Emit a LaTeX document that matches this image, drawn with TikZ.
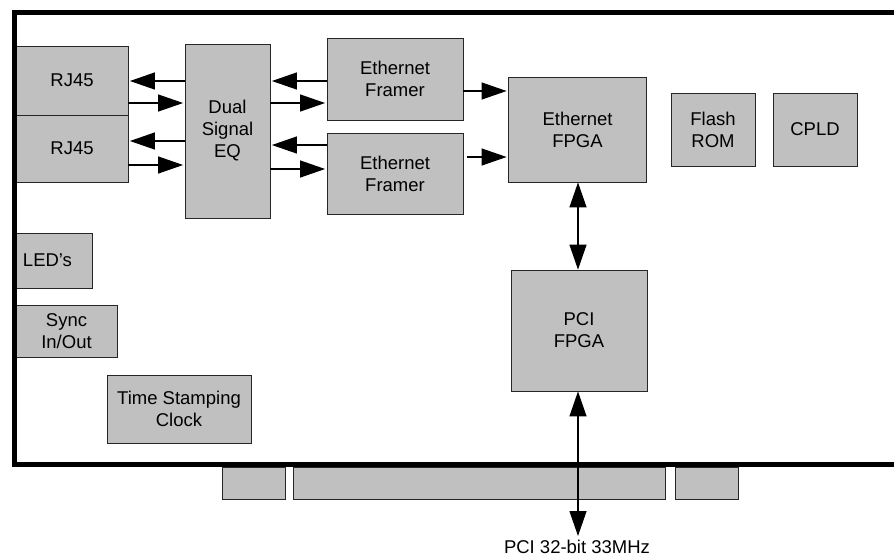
\documentclass[tikz,border=0pt]{standalone}
\usepackage{fontspec}
\setmainfont{Liberation Sans}
\usetikzlibrary{arrows.meta}
\definecolor{boxgray}{HTML}{C0C0C0}
\tikzset{
  txt/.style={font=\fontsize{18.5}{22}\selectfont},
  blk/.style={draw=black!85, line width=0.8pt, fill=boxgray, inner sep=0pt, align=center, txt},
  arr/.style={line width=1.2pt, shorten >=1.5pt, -{Triangle[length=25pt,width=17pt]}},
  darr/.style={line width=1.2pt, {Triangle[length=25pt,width=17pt]}-{Triangle[length=25pt,width=17pt]}},
  board/.style={line width=5pt, line cap=rect}
}
\begin{document}
\begin{tikzpicture}[x=1pt,y=-1pt]
\useasboundingbox (0,0) rectangle (894,558);
% boxes
\node[blk, minimum width=112pt, minimum height=69pt] (rj1) at (72,80.5) {RJ45};
\node[blk, minimum width=112pt, minimum height=67pt] (rj2) at (72,148.5) {RJ45};
\node[blk, minimum width=85pt, minimum height=174pt] (eq) at (227.5,131) {Dual\\Signal\\EQ};
\node[blk, minimum width=136pt, minimum height=82pt] (fr1) at (395,79) {Ethernet\\Framer};
\node[blk, minimum width=136pt, minimum height=81pt] (fr2) at (395,173.5) {Ethernet\\Framer};
\node[blk, minimum width=138pt, minimum height=105pt] (efpga) at (577.5,129.5) {Ethernet\\FPGA};
\node[blk, minimum width=136pt, minimum height=121pt] (pfpga) at (579,330.5) {PCI\\FPGA};
\node[blk, minimum width=84pt, minimum height=73pt] (flash) at (713,129.5) {Flash\\ROM};
\node[blk, minimum width=84pt, minimum height=73pt] (cpld) at (815,129.5) {CPLD};
\node[blk, minimum width=76pt, minimum height=55pt] (led) at (54,260.5) {};
\node[txt] (ledt) at (47.5,260.5) {LED’s};
\node[blk, minimum width=101pt, minimum height=52pt] (sync) at (66.5,331) {Sync\\In/Out};
\node[blk, minimum width=144pt, minimum height=68pt] (ts) at (179,409) {Time Stamping\\Clock};
% bus tabs
\node[blk, minimum width=63pt, minimum height=32pt] (tab1) at (253.5,483) {};
\node[blk, minimum width=372pt, minimum height=32pt] (tab2) at (479,483) {};
\node[blk, minimum width=63pt, minimum height=32pt] (tab3) at (706.5,483) {};
% board outline
\draw[board] (894,12.5) -- (14,12.5) -- (14,464.5) -- (894,464.5);
% arrows RJ45 <-> EQ
\draw[arr] (eq.west |- 0,81) -- (rj1.east |- 0,81);
\draw[arr] (rj1.east |- 0,103) -- (eq.west |- 0,103);
\draw[arr] (eq.west |- 0,141) -- (rj2.east |- 0,141);
\draw[arr] (rj2.east |- 0,165) -- (eq.west |- 0,165);
% arrows EQ <-> framers
\draw[arr] (fr1.west |- 0,81) -- (eq.east |- 0,81);
\draw[arr] (eq.east |- 0,103) -- (fr1.west |- 0,103);
\draw[arr] (fr2.west |- 0,145) -- (eq.east |- 0,145);
\draw[arr] (eq.east |- 0,169) -- (fr2.west |- 0,169);
% framers -> Ethernet FPGA
\draw[arr] (fr1.east |- 0,91) -- (efpga.west |- 0,91);
\draw[arr] ([xshift=4pt]fr2.east |- 0,157) -- (efpga.west |- 0,157);
% vertical
\draw[darr] (efpga.south -| 578,0) -- (pfpga.north -| 578,0);
\coordinate (bus) at (578,536);
\draw[darr] (pfpga.south -| 578,0) -- (bus);
\node[anchor=base, txt, inner sep=0pt] (pcilbl) at (577,553.5) {PCI 32-bit 33MHz};
\end{tikzpicture}
\end{document}
